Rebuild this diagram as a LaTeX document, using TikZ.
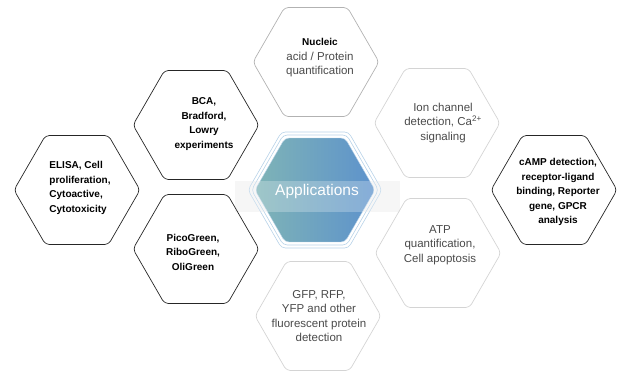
\documentclass[tikz,border=0pt]{standalone}
\usepackage{fontspec}
\setmainfont{Liberation Sans}
\usepackage{xcolor}
\usepackage{tikz}
\usetikzlibrary{shapes.geometric, positioning}

\definecolor{hexgray}{HTML}{D4D4D4}
\definecolor{txtgray}{HTML}{4A4A4A}
\definecolor{appleft}{HTML}{7FB4B6}
\definecolor{appright}{HTML}{5D92CC}
\definecolor{appline}{HTML}{B7D2E8}

\begin{document}
\begin{tikzpicture}[x=1pt, y=-1pt,
        hex/.style={regular polygon, regular polygon sides=6, minimum size=126pt, inner sep=0pt, rounded corners=4pt},
        hexdark/.style={hex, draw=black!85, line width=0.7pt},
        hexlight/.style={hex, draw=hexgray, line width=0.7pt},
        txtdark/.style={align=center, font=\bfseries\fontsize{10}{14.5}\selectfont, text=black},
        txtlight/.style={align=center, font=\fontsize{11.5}{14.5}\selectfont, text=txtgray}]
        \useasboundingbox (0,0) rectangle (627,376);

        % band behind the centre
        \fill[gray!9] (235,181) rectangle (400,212);

        % centre cell
        \node[hex, minimum size=134pt, draw=appline, line width=0.6pt] (appsout) at (315,190) {};
        \node[hex, minimum size=127pt, draw=appline, line width=0.6pt] (appsmid) at (315,190) {};
        \node[hex, minimum size=120pt, left color=appleft, right color=appright, draw=appline, line width=0.4pt] (apps) at (315,190) {};
        \fill[white, opacity=0.25] (235,181) rectangle (400,212);
        \node[text=white, font=\fontsize{15.5}{18}\selectfont] (appstxt) at (317,191) {Applications};

        % surrounding cells
        \node[hexdark] (elisa) at (77,190) {};
        \node[hexdark] (bca) at (196,125) {};
        \node[hex, draw=gray!60, line width=0.7pt] (nucleic) at (316,62) {};
        \node[hexlight] (ion) at (437,123) {};
        \node[hexdark] (camp) at (554,190) {};
        \node[hexlight] (atp) at (438,253) {};
        \node[hexlight] (gfp) at (318,316) {};
        \node[hexdark] (pico) at (196,249) {};

        % texts
        \node[txtdark, align=left] (elisatxt) at (80,188) {ELISA, Cell\\proliferation,\\Cytoactive,\\Cytotoxicity};
        \node[txtdark] (bcatxt) at (204,124) {BCA,\\Bradford,\\Lowry\\experiments};
        \node[txtlight] (nucleictxt) at (320,58) {\textbf{\color{black}\fontsize{10}{14.5}\selectfont Nucleic}\\acid / Protein\\quantification};
        \node[txtlight] (iontxt) at (443,123) {Ion channel\\detection, Ca\textsuperscript{2+}\\signaling};
        \node[txtdark] (camptxt) at (558,192) {cAMP detection,\\receptor-ligand\\binding, Reporter\\gene, GPCR\\analysis};
        \node[txtlight] (atptxt) at (440,245) {ATP\\quantification,\\Cell apoptosis};
        \node[txtlight] (gfptxt) at (319,316) {GFP, RFP,\\YFP and other\\fluorescent protein\\detection};
        \node[txtdark] (picotxt) at (193,252) {PicoGreen,\\RiboGreen,\\OliGreen};
    \end{tikzpicture}
\end{document}
